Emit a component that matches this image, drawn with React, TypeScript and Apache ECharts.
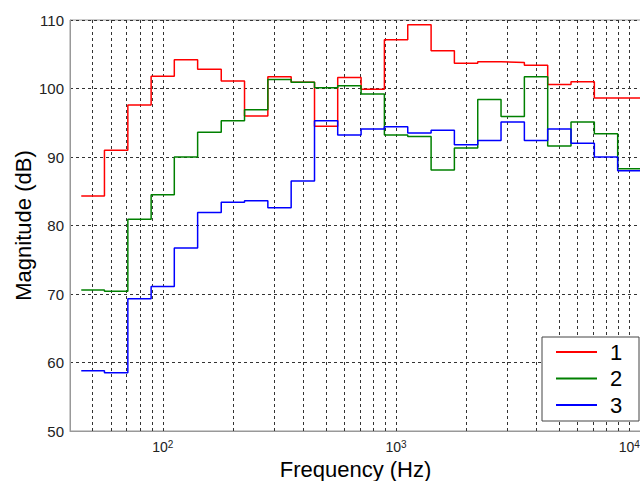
import React, { useEffect, useRef } from "react";
import * as echarts from "echarts";

// third-octave band edges (Hz)
const bandEdges = [44.7, 56.2, 70.8, 89.1, 112, 141, 178, 224, 282, 355, 447, 562, 708, 891, 1122, 1413, 1778, 2239, 2818, 3548, 4467, 5623, 7079, 8913, 11220];
// band levels (dB) for bands 50 Hz ... 10 kHz
const series1 = [84.3, 91.0, 97.6, 101.8, 104.2, 102.8, 101.1, 96.0, 101.7, 100.9, 94.5, 101.6, 99.9, 107.1, 109.3, 105.5, 103.7, 103.9, 103.8, 103.4, 100.6, 101.0, 98.6, 98.6];
const series2 = [70.6, 70.4, 80.9, 84.5, 90.0, 93.6, 95.3, 96.9, 101.3, 100.9, 100.1, 100.4, 99.2, 93.2, 93.0, 88.1, 91.3, 98.4, 95.9, 101.7, 91.6, 95.1, 93.4, 88.3];
const series3 = [58.8, 58.5, 69.3, 71.1, 76.7, 81.9, 83.4, 83.6, 82.6, 86.5, 95.3, 93.2, 94.1, 94.4, 93.5, 93.9, 91.8, 92.4, 95.1, 92.4, 94.1, 92.0, 90.0, 88.0];
const seriesNames = ["1", "2", "3"];
const seriesColors = ["#ff0000", "#008000", "#0000ff"];
const xMinHz = 40;
const xMaxHz = 11220;
const majorHz = [100, 1000, 10000];
const gridHz = [50, 60, 70, 80, 90, 100, 200, 300, 400, 500, 600, 700, 800, 900, 1000, 2000, 3000, 4000, 5000, 6000, 7000, 8000, 9000, 10000];

const FONT = "'Liberation Sans', Arial, sans-serif";

function stairs(vals: number[]) {
  return bandEdges.map((e, i) => [Math.log10(e), vals[Math.min(i, vals.length - 1)]]);
}

export default function App() {
  const ref = useRef<HTMLDivElement>(null);
  useEffect(() => {
    if (!ref.current) return;
    const chart = echarts.init(ref.current, undefined, { renderer: "svg" });
    const all = [series1, series2, series3];
    chart.setOption({
      animation: false,
      backgroundColor: "#fff",
      grid: {
        left: 70,
        top: 20,
        right: -1,
        bottom: 50,
        show: true,
        borderColor: "#999",
        borderWidth: 1,
        containLabel: false,
        outerBoundsMode: "none",
      },
      xAxis: {
        type: "value",
        min: Math.log10(xMinHz),
        max: Math.log10(xMaxHz),
        name: "Frequency (Hz)",
        nameLocation: "middle",
        nameGap: 27,
        nameMoveOverlap: false,
        nameTextStyle: { fontSize: 22, color: "#000", fontFamily: FONT },
        axisLine: { show: true, lineStyle: { color: "#999", width: 1 } },
        axisTick: { show: false, customValues: gridHz.map((v) => Math.log10(v)) },
        axisLabel: {
          customValues: majorHz.map((v) => Math.log10(v)),
          margin: 8,
          formatter: (v: number) => `{a|10}{b|${Math.round(v)}}`,
          rich: {
            a: { fontSize: 14, fontFamily: FONT, color: "#222", lineHeight: 15, verticalAlign: "bottom" },
            b: { fontSize: 10, fontFamily: FONT, color: "#222", lineHeight: 15, verticalAlign: "top" },
          },
        },
        splitLine: { show: true, lineStyle: { color: "#333", type: [3, 3], width: 1 } },
      },
      yAxis: {
        type: "value",
        min: 50,
        max: 110,
        interval: 10,
        name: "Magnitude (dB)",
        nameLocation: "middle",
        nameGap: 36,
        nameMoveOverlap: false,
        nameTextStyle: { fontSize: 22, color: "#000", fontFamily: FONT },
        axisLine: { show: true, lineStyle: { color: "#999", width: 1 } },
        axisTick: { show: false },
        axisLabel: { fontSize: 15, color: "#222", fontFamily: FONT, margin: 6 },
        splitLine: { show: true, lineStyle: { color: "#333", type: [3, 3], width: 1 } },
      },
      legend: {
        orient: "vertical",
        left: 542,
        top: 337,
        backgroundColor: "#fff",
        borderColor: "#444",
        borderWidth: 1,
        borderRadius: 0,
        padding: [4, 9, 5, 14],
        itemWidth: 41,
        itemHeight: 2,
        itemGap: 4.5,
        icon: "rect",
        textStyle: { fontSize: 22, color: "#000", fontFamily: FONT, padding: [0, 0, 0, 8], lineHeight: 22, width: 20 },
        data: seriesNames,
      },
      series: all.map((vals, i) => ({
        name: seriesNames[i],
        type: "line",
        step: "end",
        symbol: "none",
        showSymbol: false,
        data: stairs(vals),
        lineStyle: { color: seriesColors[i], width: 1.5 },
        itemStyle: { color: seriesColors[i] },
        z: 2 + i,
      })),
    });
    return () => chart.dispose();
  }, []);
  return <div ref={ref} style={{ width: 640, height: 481, position: "absolute", left: 0, top: 0 }} />;
}
